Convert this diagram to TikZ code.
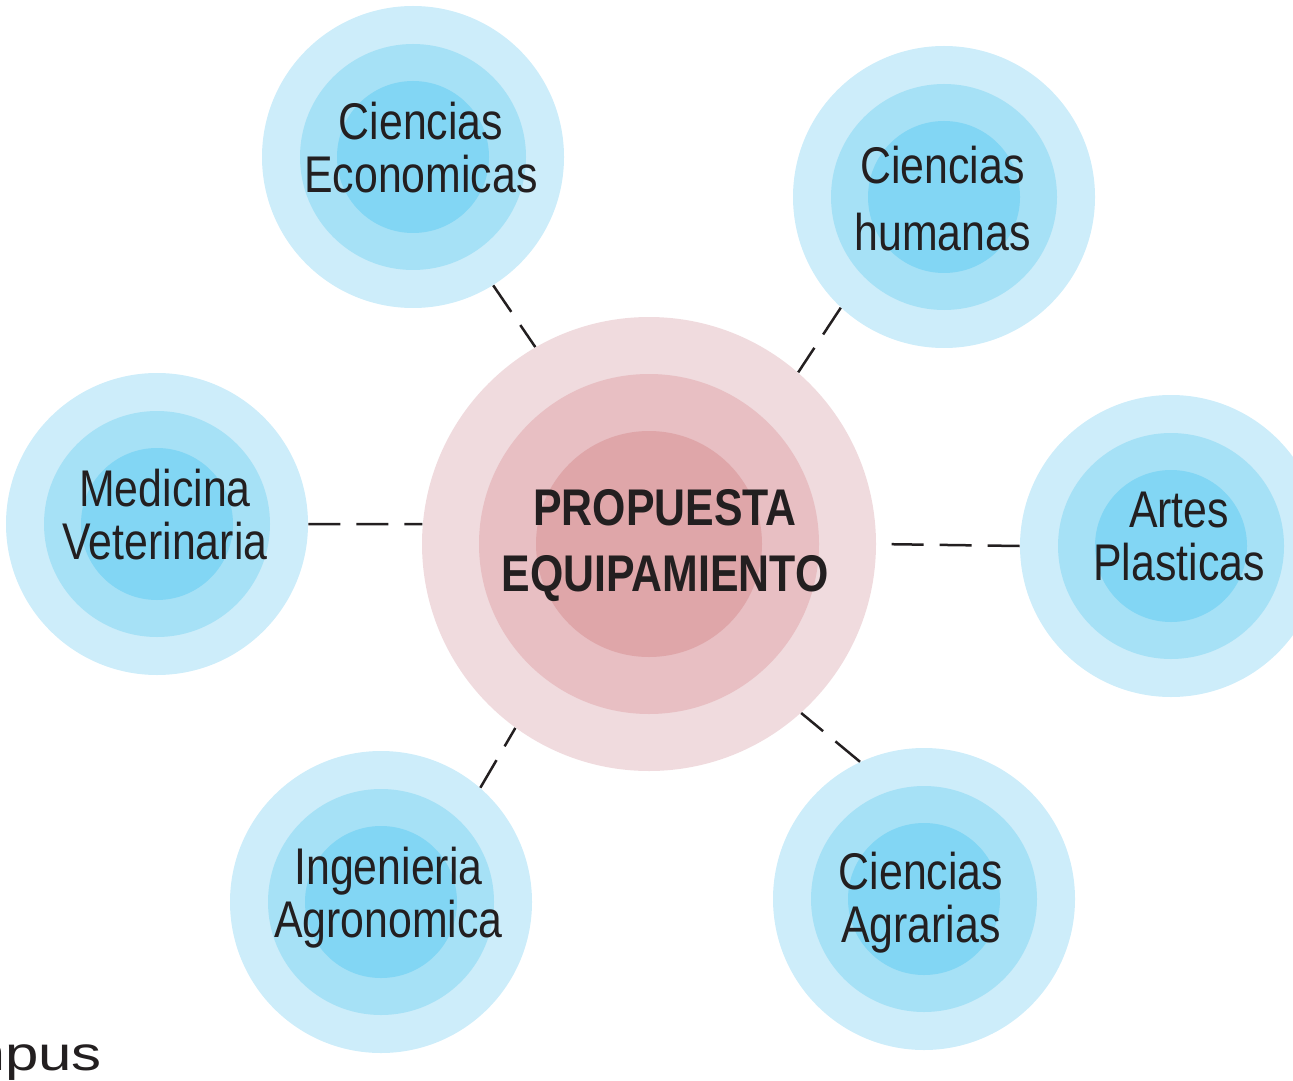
\documentclass[tikz,border=0pt]{standalone}
\usepackage{fontspec}
\setmainfont{Liberation Sans}
\newfontfamily\ringfont[FakeStretch=0.83]{Liberation Sans}
\newfontfamily\hubfont[FakeStretch=0.83]{Liberation Sans}
\newfontfamily\wideFont[FakeStretch=1.25]{Liberation Sans}
\usetikzlibrary{positioning}

\definecolor{blueA}{RGB}{205,237,250}
\definecolor{blueB}{RGB}{166,225,246}
\definecolor{blueC}{RGB}{130,214,244}
\definecolor{pinkA}{RGB}{240,219,222}
\definecolor{pinkB}{RGB}{232,191,195}
\definecolor{pinkC}{RGB}{223,166,169}
\definecolor{ink}{RGB}{35,31,32}

\tikzset{
  ring/.style={circle, inner sep=0pt, minimum size=151pt, fill=blueA,
    path picture={
      \fill[blueB] (path picture bounding box.center) circle (56.5pt);
      \fill[blueC] (path picture bounding box.center) circle (38pt);
    }},
  hub/.style={circle, inner sep=0pt, minimum size=227pt, fill=pinkA,
    path picture={
      \fill[pinkB] (path picture bounding box.center) circle (85pt);
      \fill[pinkC] (path picture bounding box.center) circle (56.5pt);
    }},
  caption/.style={align=center, inner sep=0pt, text=ink,
    font=\ringfont\fontsize{25.8}{26.5}\selectfont},
  link/.style={draw=ink, line width=1.25pt, dash pattern=on 16pt off 8pt},
}

\begin{document}
\begin{tikzpicture}[x=0.5pt, y=-0.5pt]
  \clip (0,0) rectangle (1293,1080);

  \node[hub] (hub) at (649,544) {};
  \node[ring] (eco) at (413,157) {};
  \node[ring] (hum) at (944,197) {};
  \node[ring] (med) at (157,524) {};
  \node[ring] (art) at (1171,546) {};
  \node[ring] (ing) at (381,902) {};
  \node[ring] (agr) at (924,899) {};

  \node[caption, font=\hubfont\bfseries\fontsize{25.8}{33}\selectfont]
    (hubt) at (665,546) {PROPUESTA\\EQUIPAMIENTO};
  \node[caption] (ecot) at (421,147.5) {Ciencias\\Economicas};
  \node[caption, font=\ringfont\fontsize{25.8}{33.5}\selectfont]
    (humt) at (942.5,199) {Ciencias\\humanas};
  \node[caption] (medt) at (165,515) {Medicina\\Veterinaria};
  \node[caption] (artt) at (1179,536.5) {Artes\\Plasticas};
  \node[caption] (ingt) at (388.5,898) {Ingenieria\\Agronomica};
  \node[caption] (agrt) at (921,902.5) {Ciencias\\Agrarias};

  \node[anchor=base west, inner sep=0pt, text=ink, font=\wideFont\fontsize{24}{24}\selectfont]
    (campus) at (-122,1070) {Campus};

  \draw[link] (eco.302) -- (hub.120);
  \draw[link] (hum.227) -- (hub.49);
  \draw[link] (med.0) -- (hub.175);
  \draw[link] (art.180) -- (hub.0);
  \draw[link] (ing.49) -- (hub.234);
  \draw[link] (agr.115) -- (hub.312);
\end{tikzpicture}
\end{document}
